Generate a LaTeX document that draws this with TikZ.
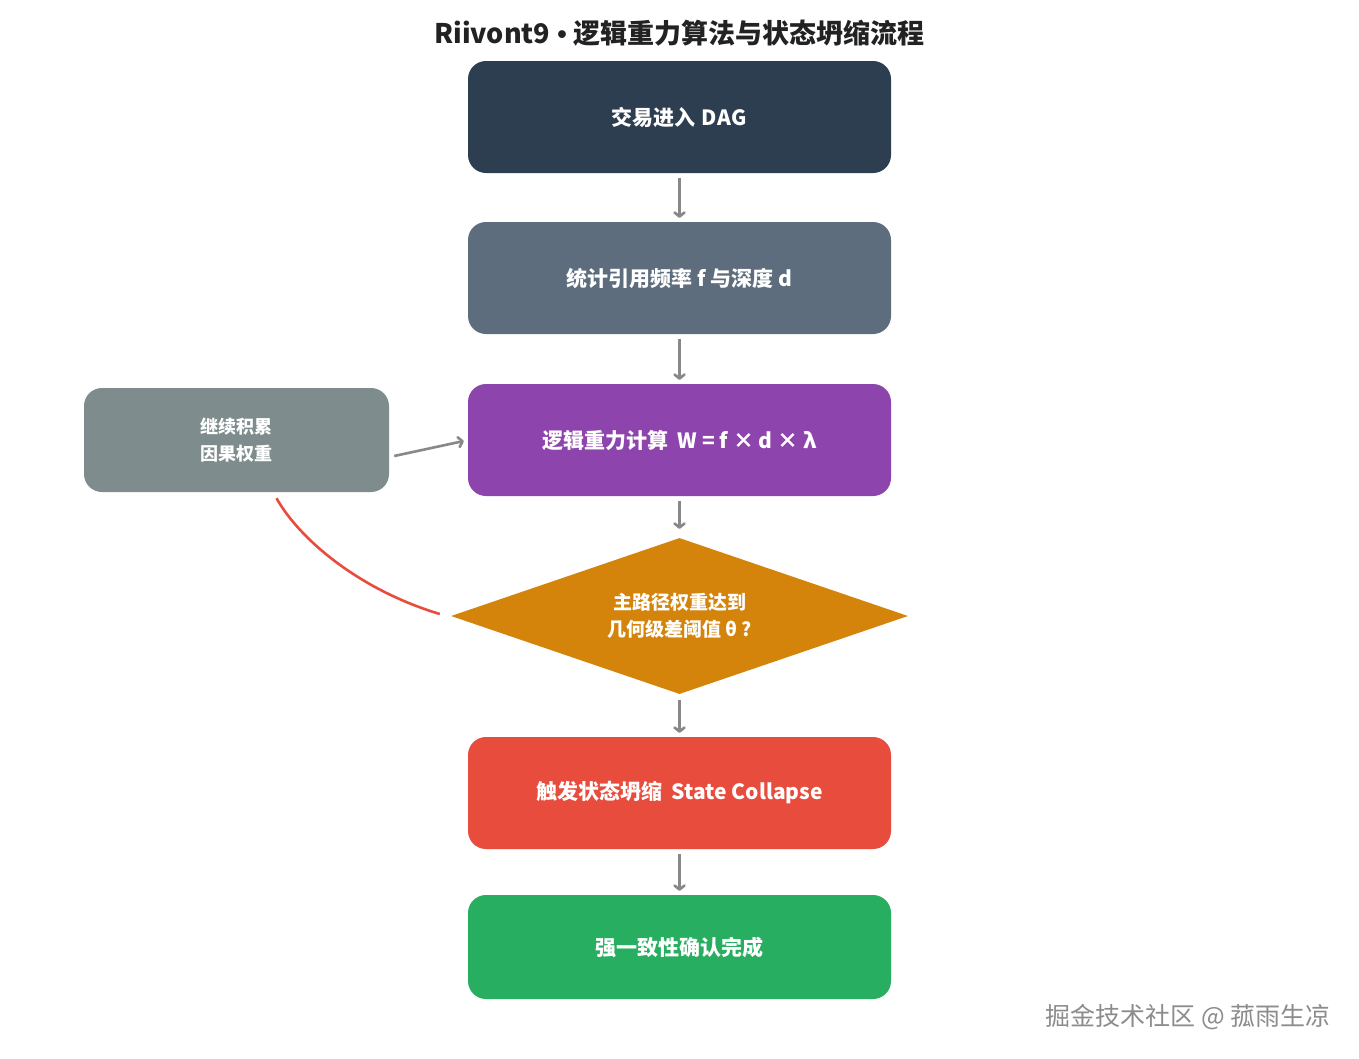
\documentclass[tikz,border=0pt]{standalone}
\usepackage{fontspec}
\setmainfont{Noto Sans CJK SC}
\newfontfamily\latfont{Liberation Sans}
\usetikzlibrary{shapes.geometric,arrows.meta}
\definecolor{cdark}{HTML}{2C3E50}
\definecolor{cslate}{HTML}{5D6D7E}
\definecolor{cpurple}{HTML}{8E44AD}
\definecolor{cgray}{HTML}{7F8C8D}
\definecolor{corange}{HTML}{D4840A}
\definecolor{cred}{HTML}{E74C3C}
\definecolor{cgreen}{HTML}{27AE60}
\definecolor{carrow}{HTML}{888888}
\definecolor{ctitle}{HTML}{222222}
\begin{document}
\begin{tikzpicture}[x=1pt,y=-1pt,
  box/.style={rectangle, rounded corners=18pt, minimum width=423pt, minimum height=112pt,
    inner sep=0pt, text=white, align=center, font=\bfseries\fontsize{21}{27}\selectfont},
  arr/.style={draw=carrow, line width=2.6pt, -{Straight Barb[round,length=4pt,width=10pt]},
    shorten <=5pt, shorten >=4pt}]
\useasboundingbox (0,0) rectangle (1359,1058);
\fill[white] (0,0) rectangle (1359,1058);

\node[text=ctitle, font=\bfseries\fontsize{27}{32}\selectfont] (title) at (679.5,33) {Riivont9\hspace{7pt}{\latfont •}\hspace{7pt}逻辑重力算法与状态坍缩流程};

\node[box, fill=cdark] (b1) at (679.5,117) {交易进入\hspace{6pt}D\kern0.5pt A\kern0.5pt G};
\node[box, fill=cslate] (b2) at (679.5,278) {统计引用频率 f 与深度 d};
\node[box, fill=cpurple] (b3) at (679.5,440) {逻辑重力计算\ \ W = f × d × λ};
\node[box, fill=cgray, minimum width=305pt, minimum height=104pt, font=\bfseries\fontsize{18}{27}\selectfont] (g) at (236.5,440) {继续积累\\因果权重};
\node[diamond, fill=corange, minimum width=457pt, minimum height=156pt, aspect=2.93, inner sep=0pt,
  text=white, align=center, font=\bfseries\fontsize{19}{27}\selectfont] (d) at (679.5,616) {主路径权重达到\\几何级差阈值 θ ?};
\node[box, fill=cred] (b4) at (679.5,793) {触发状态坍缩\ \ State Collapse};
\node[box, fill=cgreen, minimum height=104pt] (b5) at (679.5,947) {强一致性确认完成};

\draw[arr] (b1) -- (b2);
\draw[arr] (b2) -- (b3);
\draw[arr, shorten >=9pt] (b3) -- (d);
\draw[arr, shorten <=6pt] (d) -- (b4);
\draw[arr] (b4) -- (b5);
\draw[arr, shorten <=0pt, shorten >=0pt] ([xshift=5pt,yshift=-16pt]g.east) -- ([xshift=-4pt,yshift=-1pt]b3.west);

\coordinate (rs) at ([xshift=-11pt,yshift=2pt]d.west);
\coordinate (re) at ([xshift=40pt,yshift=-6pt]g.south);
\draw[cred, line width=2.6pt] (rs) .. controls (360,590) and (300,540) .. (re);

\node[text=black!45, font=\fontsize{25}{28}\selectfont] (wm) at (1188,1017) {掘金技术社区 @ 菰雨生凉};
\end{tikzpicture}
\end{document}
